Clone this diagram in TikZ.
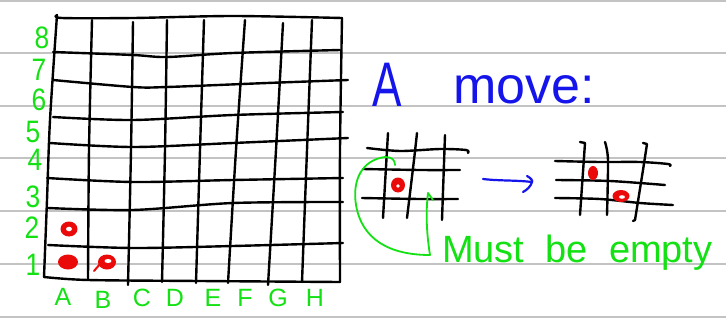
\documentclass[tikz,border=0pt]{standalone}
\usepackage{fontspec}
\setmainfont{Liberation Sans}
\definecolor{ruleGray}{RGB}{195,195,195}
\definecolor{penGreen}{RGB}{20,225,20}
\definecolor{penBlue}{RGB}{20,20,235}
\definecolor{penRed}{RGB}{235,10,10}
\begin{document}
\begin{tikzpicture}[x=1pt,y=-1pt,
  rule/.style={draw=ruleGray, line width=1.3pt},
  ink/.style={draw=black, line width=2.4pt, line cap=round, line join=round},
  greenink/.style={draw=penGreen, line width=1.8pt, line cap=round, line join=round},
  blueink/.style={draw=penBlue, line width=2.2pt, line cap=round, line join=round},
  rank/.style={text=penGreen, font=\fontsize{31}{31}\selectfont, inner sep=0pt, xscale=0.85},
  file/.style={text=penGreen, font=\fontsize{25}{25}\selectfont, inner sep=0pt},
  piece/.style={fill=penRed}]
\useasboundingbox (0,0) rectangle (726,327);
\fill[white] (0,0) rectangle (726,327);
% ruled paper
\foreach \y in {1,53,106,158,211,264,317}{\draw[rule] (0,\y) -- (726,\y);}
% main board border
\draw[ink] plot[smooth] coordinates {(57,15) (62,18) (133,18) (233,16) (342,18)};
\draw[ink] plot[smooth] coordinates {(57,15) (50,120) (47,200) (44,277)};
\draw[ink] plot[smooth] coordinates {(342,18) (340,150) (340,282)};
\draw[ink] plot[smooth] coordinates {(44,277) (88,280) (200,281) (340,282)};
% horizontal lines
\draw[ink] plot[smooth] coordinates {(53,52) (133,55) (167,57) (233,53) (340,50)};
\draw[ink] plot[smooth] coordinates {(53,80) (133,87) (167,87) (267,83) (348,80)};
\draw[ink] plot[smooth] coordinates {(53,117) (133,120) (233,115) (343,112)};
\draw[ink] plot[smooth] coordinates {(50,143) (133,147) (233,143) (348,138)};
\draw[ink] plot[smooth] coordinates {(47,178) (133,182) (233,180) (343,178)};
\draw[ink] plot[smooth] coordinates {(48,208) (133,210) (233,203) (343,202)};
\draw[ink] plot[smooth] coordinates {(48,245) (133,248) (233,246) (343,243)};
% vertical lines
\draw[ink] plot[smooth] coordinates {(92,20) (89,150) (88,280)};
\draw[ink] plot[smooth] coordinates {(133,22) (131,150) (128,285)};
\draw[ink] plot[smooth] coordinates {(167,20) (165,150) (162,282)};
\draw[ink] plot[smooth] coordinates {(204,20) (200,150) (196,283)};
\draw[ink] plot[smooth] coordinates {(245,20) (236,150) (228,283)};
\draw[ink] plot[smooth] coordinates {(283,23) (276,150) (268,285)};
\draw[ink] plot[smooth] coordinates {(312,20) (307,150) (302,282)};
% rank labels
\node[rank] (r8) at (42,38) {8};
\node[rank] (r7) at (39,70) {7};
\node[rank] (r6) at (39,100) {6};
\node[rank] (r5) at (33,132) {5};
\node[rank] (r4) at (35,160) {4};
\node[rank] (r3) at (33,197) {3};
\node[rank] (r2) at (32,228) {2};
\node[rank] (r1) at (33,265) {1};
% file labels
\node[file] (fA) at (63,297) {A};
\node[file] (fB) at (103,300) {B};
\node[file] (fC) at (142,298) {C};
\node[file] (fD) at (175,298) {D};
\node[file] (fE) at (213,298) {E};
\node[file] (fF) at (245,298) {F};
\node[file] (fG) at (278,298) {G};
\node[file] (fH) at (315,298) {H};
% pieces on main board
\fill[piece] (69,229) ellipse [x radius=8.5pt, y radius=7.5pt];
\fill[white] (69,229) ellipse [x radius=3pt, y radius=2.3pt];
\fill[piece] (68,262) ellipse [x radius=10pt, y radius=7.5pt];
\fill[piece] (107,262) ellipse [x radius=9pt, y radius=7.5pt];
\fill[white] (108,261) ellipse [x radius=3.5pt, y radius=2pt];
\draw[penRed, line width=2pt, line cap=round] (100,264) -- (94,271);
% title
\node[text=penBlue, font=\fontsize{63}{63}\selectfont, inner sep=0pt, anchor=base west, xscale=0.7] (tA) at (372,106) {A};
\node[text=penBlue, font=\fontsize{52}{52}\selectfont, inner sep=0pt, anchor=base west] (tmove) at (453,103) {move:};
% small grid 1
\draw[ink] plot[smooth] coordinates {(367,148) (400,151) (440,149) (466,150) (468,153)};
\draw[ink] plot[smooth] coordinates {(363,169) (420,170) (460,170)};
\draw[ink] plot[smooth] coordinates {(362,198) (420,199) (458,199)};
\draw[ink] (388,133) -- (383,218);
\draw[ink] plot[smooth] coordinates {(417,133) (414,160) (407,218)};
\draw[ink] (445,135) -- (442,220);
\fill[piece] (398,185) ellipse [x radius=7pt, y radius=7.5pt];
\fill[white] (398,186) ellipse [x radius=1.8pt, y radius=1.8pt];
% blue arrow
\coordinate (arrS) at (483,179);
\coordinate (arrE) at (532,182);
\draw[blueink] (arrS) .. controls (500,181) and (515,180) .. (arrE);
\draw[blueink] (527,176) .. controls (531,178) and (533,181) .. (arrE) .. controls (531,186) and (527,190) .. (523,192);
% small grid 2
\draw[ink] plot[smooth] coordinates {(555,161) (600,162) (640,162) (668,164) (670,166)};
\draw[ink] plot[smooth] coordinates {(556,180) (610,181) (665,185)};
\draw[ink] plot[smooth] coordinates {(555,198) (600,199) (640,203) (673,205)};
\draw[ink] (580,142) -- (585,143) -- (580,215);
\draw[ink] plot[smooth] coordinates {(605,142) (608,160) (607,215)};
\draw[ink] (643,143) -- (647,144) -- (643,170) -- (635,220) -- (633,221);
\fill[piece] (593,173) ellipse [x radius=5pt, y radius=7pt];
\fill[piece] (621,196) ellipse [x radius=8.5pt, y radius=6pt];
\fill[white] (622,197) ellipse [x radius=3pt, y radius=1.8pt];
% green annotation
\node[text=penGreen, font=\fontsize{38}{38}\selectfont, inner sep=0pt, anchor=base west] (must) at (442,262) {Must\ \ be\ \ empty};
\coordinate (gStart) at (430,255);
\draw[greenink] (gStart) .. controls (390,255) and (362,240) .. (356,205)
  .. controls (352,180) and (362,160) .. (385,157) .. controls (392,157) and (395,160) .. (395,165);
\draw[greenink] (gStart) .. controls (426,230) and (426,210) .. (428,193) -- (433,200);
\end{tikzpicture}
\end{document}
